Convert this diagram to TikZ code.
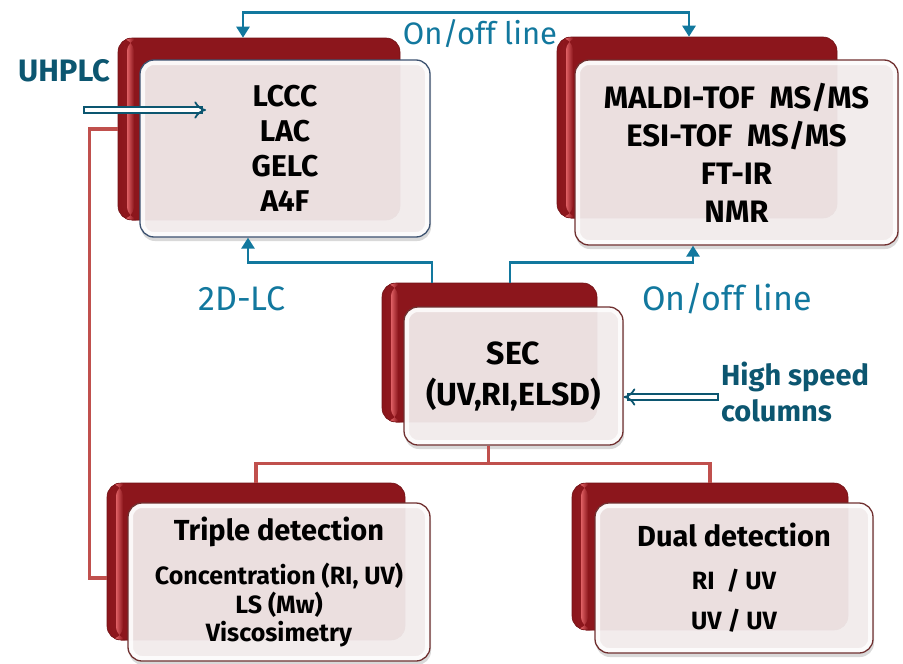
\documentclass[tikz,border=0pt]{standalone}
\usepackage{fontspec}
\setmainfont{Fira Sans}
\usetikzlibrary{arrows.meta,calc,shadows}

\definecolor{boxred}{RGB}{140,22,28}
\definecolor{boxredlight}{RGB}{222,96,100}
\definecolor{boxface}{RGB}{244,238,238}
\definecolor{lineteal}{RGB}{18,120,158}
\definecolor{labelteal}{RGB}{12,86,112}
\definecolor{linered}{RGB}{192,80,77}
\definecolor{edgered}{RGB}{112,48,48}
\definecolor{edgeblue}{RGB}{60,82,112}

\newcommand\subline{\fontsize{25}{28}\selectfont}

\tikzset{
  back box/.style={rounded corners=14pt, fill=boxred, draw=boxred!80!black, line width=0.6pt,
    path picture={\fill[left color=boxred, right color=boxredlight]
      ([xshift=4pt]path picture bounding box.south west) rectangle
      ([xshift=9pt]path picture bounding box.north west);
      \fill[left color=boxredlight, right color=boxred]
      ([xshift=9pt]path picture bounding box.south west) rectangle
      ([xshift=16pt]path picture bounding box.north west);}},
  front box/.style={rounded corners=14pt, fill=boxface, fill opacity=0.92, text opacity=1,
    draw=edgered, line width=1.3pt, align=center,
    drop shadow={opacity=0.3, shadow xshift=1pt, shadow yshift=-4pt},
    path picture={\draw[white, line width=10pt, opacity=0.8, rounded corners=14pt]
      (path picture bounding box.south west) rectangle (path picture bounding box.north east);}},
  teal line/.style={lineteal, line width=2.8pt, -{Triangle[length=11pt,width=13pt]}},
  red line/.style={linered, line width=3.5pt},
  teal label/.style={lineteal, font=\fontsize{31}{36}\selectfont},
  bold label/.style={labelteal, font=\bfseries\fontsize{30}{34}\selectfont},
  hollow arrow/.style={labelteal, line width=1.8pt, double=white, double distance=4pt,
    line cap=rect, -{Implies[scale=1.3]}}
}

\begin{document}
\begin{tikzpicture}[x=1pt, y=-1pt]

\useasboundingbox (0,0) rectangle (903,664);

\foreach \n/\x/\y/\w/\h in {lc/259/129/282/182, ms/697/127.5/280/181,
    sec/489.5/352.5/215/139, triple/256/561.5/298/157, dual/710/556.5/276/147}
  \node [back box, minimum width=\w, minimum height=\h] (\n-back) at (\x,\y) {};

\node [front box, draw=edgeblue, minimum width=290, minimum height=177,
  font=\bfseries\fontsize{30}{35}\selectfont] (lc) at (285,148.5)
  {LCCC\\LAC\\GELC\\A4F};
\node [front box, minimum width=323, minimum height=185,
  font=\bfseries\fontsize{31}{38}\selectfont] (ms) at (736.5,152.5)
  {MALDI-TOF\ \ MS/MS\\ESI-TOF\ \ MS/MS\\FT-IR\\NMR};
\node [front box, minimum width=219, minimum height=138,
  font=\bfseries\fontsize{32}{41}\selectfont] (sec) at (513.5,376)
  {SEC\\(UV,RI,ELSD)};
\node [front box, minimum width=302, minimum height=158,
  font=\bfseries\fontsize{29}{28.5}\selectfont] (triple) at (279,582)
  {Triple detection\\[16pt]
   \subline Concentration (RI, UV)\\\subline LS (Mw)\\\subline Viscosimetry};
\node [front box, minimum width=278, minimum height=150,
  font=\bfseries\fontsize{29}{40}\selectfont] (dual) at (734,578)
  {Dual detection\\[3pt]
   \subline RI\ \ / UV\\\subline UV / UV};

% connectors
\draw [teal line, {Triangle[length=11pt,width=13pt]}-{Triangle[length=11pt,width=13pt]}]
  ([xshift=-16]lc-back.north) -- ++(0,-25) -| ([xshift=-8]ms-back.north);
\draw [teal line] ([xshift=-57.5]sec-back.north) -- ++(0,-20) -| ([xshift=-37]lc.south);
\draw [teal line] ([xshift=20.5]sec-back.north) -- ++(0,-20) -| ([xshift=-43.5]ms.south);

\draw [red line] (lc-back.west) -- ++(-28,0) |- ($(triple-back.west)+(0,16.5)$);
\coordinate (split) at ($(sec.south)+(-25,0)$);
\draw [red line] (split) -- ++(0,18) -| (triple-back.north);
\draw [red line] (split) -- ++(0,18) -| (dual-back.north);

% labels
\node [teal label] (onoff-top) at (480,34) {On/off line};
\node [teal label, font=\fontsize{34}{38}\selectfont] (twod) at (242,299) {2D-LC};
\node [teal label, font=\fontsize{34}{38}\selectfont] (onoff-right) at (727,299) {On/off line};
\node [bold label, font=\bfseries\fontsize{31}{34}\selectfont] (uhplc) at (64,71) {UHPLC};
\node [bold label, align=left, font=\bfseries\fontsize{29}{36}\selectfont] (speed) at (795,392)
  {High speed\\columns};

\coordinate (uhplc-in) at (87,110);
\coordinate (uhplc-out) at (206,110);
\draw [hollow arrow] (uhplc-in) -- (uhplc-out);

\coordinate (speed-in) at (715,397);
\draw [hollow arrow] (speed-in) -- (speed-in -| sec.east);

\end{tikzpicture}
\end{document}
